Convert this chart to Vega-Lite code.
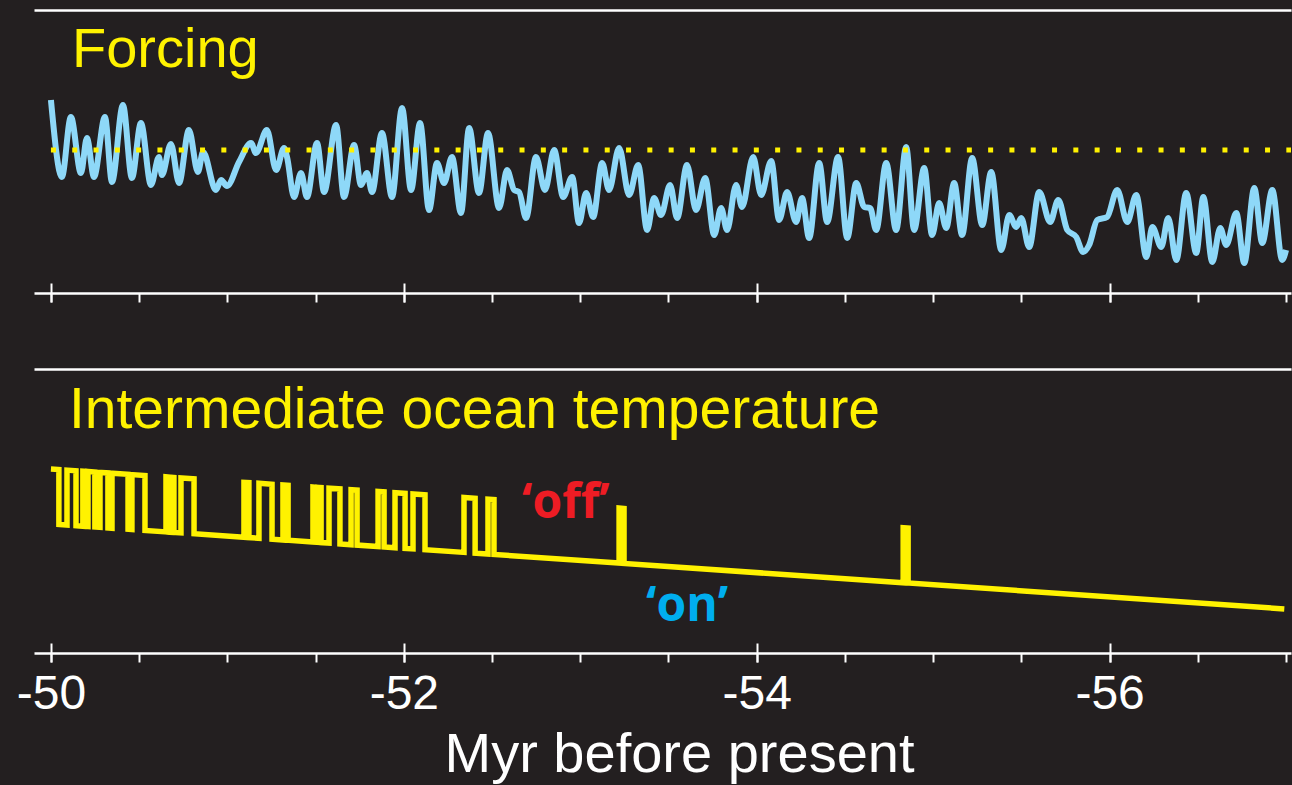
{
  "$schema": "https://vega.github.io/schema/vega-lite/v6.json",
  "background": "#231f20",
  "padding": {"left": 16, "top": 10, "right": 0, "bottom": 5},
  "spacing": 66,
  "config": {
    "view": {"stroke": null},
    "font": "Liberation Sans",
    "axis": {"grid": false, "domainColor": "white", "tickColor": "white", "labelColor": "white", "titleColor": "white", "minExtent": 0, "tickWidth": 2, "domainWidth": 2.5}
  },
  "datasets": {
    "forcing": [
      {"t":-50.000,"f":19.3},{"t":-50.062,"f":11.6},{"t":-50.113,"f":17.6},{"t":-50.170,"f":12.0},{"t":-50.204,"f":15.5},{"t":-50.244,"f":11.6},{"t":-50.306,"f":17.6},{"t":-50.346,"f":11.1},{"t":-50.408,"f":18.8},{"t":-50.459,"f":11.5},{"t":-50.510,"f":17.0},{"t":-50.567,"f":10.8},{"t":-50.612,"f":13.6},{"t":-50.629,"f":11.8},{"t":-50.680,"f":14.9},{"t":-50.726,"f":11.0},{"t":-50.782,"f":16.3},{"t":-50.833,"f":12.1},{"t":-50.862,"f":14.1},{"t":-50.935,"f":10.3},{"t":-50.964,"f":11.3},{"t":-50.998,"f":10.7},{"t":-51.066,"f":13.1},{"t":-51.134,"f":15.0},{"t":-51.162,"f":14.0},{"t":-51.224,"f":16.3},{"t":-51.276,"f":12.3},{"t":-51.321,"f":14.5},{"t":-51.338,"f":13.6},{"t":-51.378,"f":9.6},{"t":-51.417,"f":12.0},{"t":-51.451,"f":9.6},{"t":-51.508,"f":15.0},{"t":-51.548,"f":10.1},{"t":-51.616,"f":16.8},{"t":-51.661,"f":9.6},{"t":-51.718,"f":14.8},{"t":-51.757,"f":10.8},{"t":-51.791,"f":12.0},{"t":-51.820,"f":10.1},{"t":-51.876,"f":16.0},{"t":-51.933,"f":9.6},{"t":-51.990,"f":18.5},{"t":-52.041,"f":10.3},{"t":-52.092,"f":17.0},{"t":-52.143,"f":8.3},{"t":-52.188,"f":13.0},{"t":-52.228,"f":11.0},{"t":-52.273,"f":13.6},{"t":-52.324,"f":8.0},{"t":-52.370,"f":16.5},{"t":-52.426,"f":10.0},{"t":-52.477,"f":16.0},{"t":-52.540,"f":8.5},{"t":-52.585,"f":12.3},{"t":-52.625,"f":10.3},{"t":-52.653,"f":10.1},{"t":-52.693,"f":7.5},{"t":-52.749,"f":13.6},{"t":-52.800,"f":10.3},{"t":-52.852,"f":14.3},{"t":-52.903,"f":9.6},{"t":-52.954,"f":11.6},{"t":-52.993,"f":7.0},{"t":-53.033,"f":10.0},{"t":-53.073,"f":7.6},{"t":-53.124,"f":13.0},{"t":-53.163,"f":10.3},{"t":-53.220,"f":14.5},{"t":-53.277,"f":9.8},{"t":-53.328,"f":12.8},{"t":-53.379,"f":6.3},{"t":-53.418,"f":9.5},{"t":-53.458,"f":7.8},{"t":-53.509,"f":10.8},{"t":-53.549,"f":7.5},{"t":-53.605,"f":12.8},{"t":-53.656,"f":8.3},{"t":-53.708,"f":11.5},{"t":-53.759,"f":5.8},{"t":-53.798,"f":8.5},{"t":-53.832,"f":6.3},{"t":-53.883,"f":10.8},{"t":-53.917,"f":8.6},{"t":-53.980,"f":13.6},{"t":-54.025,"f":9.8},{"t":-54.082,"f":13.2},{"t":-54.127,"f":7.3},{"t":-54.172,"f":10.1},{"t":-54.223,"f":7.1},{"t":-54.257,"f":9.5},{"t":-54.297,"f":5.5},{"t":-54.354,"f":13.0},{"t":-54.399,"f":7.1},{"t":-54.461,"f":13.6},{"t":-54.513,"f":5.5},{"t":-54.564,"f":11.0},{"t":-54.609,"f":8.6},{"t":-54.643,"f":8.5},{"t":-54.677,"f":6.3},{"t":-54.734,"f":13.0},{"t":-54.790,"f":6.3},{"t":-54.847,"f":14.6},{"t":-54.892,"f":6.3},{"t":-54.949,"f":12.5},{"t":-54.994,"f":5.8},{"t":-55.034,"f":9.0},{"t":-55.074,"f":6.5},{"t":-55.119,"f":11.0},{"t":-55.164,"f":5.8},{"t":-55.221,"f":13.5},{"t":-55.278,"f":6.8},{"t":-55.329,"f":12.1},{"t":-55.386,"f":4.3},{"t":-55.431,"f":7.8},{"t":-55.471,"f":6.6},{"t":-55.499,"f":7.5},{"t":-55.544,"f":4.6},{"t":-55.601,"f":10.1},{"t":-55.663,"f":7.1},{"t":-55.709,"f":9.3},{"t":-55.760,"f":6.3},{"t":-55.811,"f":5.6},{"t":-55.850,"f":4.1},{"t":-55.884,"f":4.8},{"t":-55.930,"f":7.3},{"t":-55.986,"f":7.6},{"t":-56.043,"f":10.3},{"t":-56.100,"f":7.1},{"t":-56.151,"f":9.8},{"t":-56.208,"f":3.6},{"t":-56.242,"f":6.6},{"t":-56.293,"f":4.6},{"t":-56.332,"f":7.5},{"t":-56.378,"f":3.3},{"t":-56.434,"f":10.0},{"t":-56.491,"f":4.0},{"t":-56.531,"f":9.6},{"t":-56.582,"f":3.1},{"t":-56.627,"f":6.5},{"t":-56.661,"f":4.8},{"t":-56.718,"f":8.0},{"t":-56.763,"f":3.0},{"t":-56.820,"f":10.5},{"t":-56.865,"f":5.0},{"t":-56.922,"f":10.3},{"t":-56.978,"f":3.3},{"t":-57.000,"f":4.3}
    ],
    "temp": [
      {"i":0,"t":-50.000,"v":18.40},
      {"i":1,"t":-50.045,"v":18.35},{"i":2,"t":-50.045,"v":12.85},
      {"i":3,"t":-50.091,"v":12.79},{"i":4,"t":-50.091,"v":18.29},
      {"i":5,"t":-50.142,"v":18.23},{"i":6,"t":-50.142,"v":12.73},
      {"i":7,"t":-50.181,"v":12.68},{"i":8,"t":-50.181,"v":18.18},
      {"i":9,"t":-50.193,"v":18.17},{"i":10,"t":-50.193,"v":12.67},
      {"i":11,"t":-50.210,"v":12.65},{"i":12,"t":-50.210,"v":18.15},
      {"i":13,"t":-50.249,"v":18.10},{"i":14,"t":-50.249,"v":12.60},
      {"i":15,"t":-50.278,"v":12.56},{"i":16,"t":-50.278,"v":18.06},
      {"i":17,"t":-50.323,"v":18.01},{"i":18,"t":-50.323,"v":12.51},
      {"i":19,"t":-50.346,"v":12.48},{"i":20,"t":-50.346,"v":17.98},
      {"i":21,"t":-50.437,"v":17.87},{"i":22,"t":-50.437,"v":12.37},
      {"i":23,"t":-50.459,"v":12.34},{"i":24,"t":-50.459,"v":17.84},
      {"i":25,"t":-50.533,"v":17.75},{"i":26,"t":-50.533,"v":12.25},
      {"i":27,"t":-50.652,"v":12.11},{"i":28,"t":-50.652,"v":17.61},
      {"i":29,"t":-50.663,"v":17.59},{"i":30,"t":-50.663,"v":12.09},
      {"i":31,"t":-50.680,"v":12.07},{"i":32,"t":-50.680,"v":17.57},
      {"i":33,"t":-50.697,"v":17.55},{"i":34,"t":-50.697,"v":12.05},
      {"i":35,"t":-50.737,"v":12.01},{"i":36,"t":-50.737,"v":17.51},
      {"i":37,"t":-50.811,"v":17.42},{"i":38,"t":-50.811,"v":11.92},
      {"i":39,"t":-51.094,"v":11.57},{"i":40,"t":-51.094,"v":17.07},
      {"i":41,"t":-51.122,"v":17.04},{"i":42,"t":-51.122,"v":11.54},
      {"i":43,"t":-51.179,"v":11.47},{"i":44,"t":-51.179,"v":16.97},
      {"i":45,"t":-51.253,"v":16.88},{"i":46,"t":-51.253,"v":11.38},
      {"i":47,"t":-51.315,"v":11.30},{"i":48,"t":-51.315,"v":16.80},
      {"i":49,"t":-51.344,"v":16.77},{"i":50,"t":-51.344,"v":11.27},
      {"i":51,"t":-51.485,"v":11.10},{"i":52,"t":-51.485,"v":16.60},
      {"i":53,"t":-51.497,"v":16.58},{"i":54,"t":-51.497,"v":11.08},
      {"i":55,"t":-51.514,"v":11.06},{"i":56,"t":-51.514,"v":16.56},
      {"i":57,"t":-51.531,"v":16.54},{"i":58,"t":-51.531,"v":11.04},
      {"i":59,"t":-51.576,"v":10.99},{"i":60,"t":-51.576,"v":16.49},
      {"i":61,"t":-51.638,"v":16.41},{"i":62,"t":-51.638,"v":10.91},
      {"i":63,"t":-51.701,"v":10.83},{"i":64,"t":-51.701,"v":16.33},
      {"i":65,"t":-51.735,"v":16.29},{"i":66,"t":-51.735,"v":10.79},
      {"i":67,"t":-51.854,"v":10.65},{"i":68,"t":-51.854,"v":16.15},
      {"i":69,"t":-51.888,"v":16.11},{"i":70,"t":-51.888,"v":10.61},
      {"i":71,"t":-51.950,"v":10.53},{"i":72,"t":-51.950,"v":16.03},
      {"i":73,"t":-52.007,"v":15.96},{"i":74,"t":-52.007,"v":10.46},
      {"i":75,"t":-52.052,"v":10.41},{"i":76,"t":-52.052,"v":15.91},
      {"i":77,"t":-52.120,"v":15.82},{"i":78,"t":-52.120,"v":10.32},
      {"i":79,"t":-52.341,"v":10.06},{"i":80,"t":-52.341,"v":15.56},
      {"i":81,"t":-52.404,"v":15.48},{"i":82,"t":-52.404,"v":9.98},
      {"i":83,"t":-52.477,"v":9.89},{"i":84,"t":-52.477,"v":15.39},
      {"i":85,"t":-52.511,"v":15.35},{"i":86,"t":-52.511,"v":9.85},
      {"i":87,"t":-53.220,"v":8.99},{"i":88,"t":-53.220,"v":14.49},
      {"i":89,"t":-53.248,"v":14.45},{"i":90,"t":-53.248,"v":8.95},
      {"i":91,"t":-54.830,"v":7.03},{"i":92,"t":-54.830,"v":12.53},
      {"i":93,"t":-54.858,"v":12.50},{"i":94,"t":-54.858,"v":7.00},
      {"i":95,"t":-56.990,"v":4.41}
    ]
  },
  "vconcat": [
    {
      "width": 1257,
      "height": 283,
      "resolve": {"axis": {"x": "independent"}},
      "layer": [
        {
          "data": {"name": "forcing"},
          "mark": {"type": "line", "color": "#8ed8f8", "strokeWidth": 6, "interpolate": "monotone"},
          "encoding": {
            "x": {"field": "t", "type": "quantitative", "scale": {"domain": [-49.904, -57.028], "nice": false, "zero": false},
                  "axis": {"orient": "bottom", "values": [-50,-50.5,-51,-51.5,-52,-52.5,-53,-53.5,-54,-54.5,-55,-55.5,-56,-56.5,-57], "tickSize": 9, "labels": false, "title": null}},
            "y": {"field": "f", "type": "quantitative", "scale": {"domain": [0, 28.3], "nice": false, "zero": false}, "axis": null}
          }
        },
        {
          "data": {"values": [{"a": -50, "b": -57.028, "y": 14.3}]},
          "mark": {"type": "rule", "color": "#fff200", "strokeWidth": 5, "strokeDash": [5, 16.3], "strokeCap": "butt"},
          "encoding": {
            "x": {"field": "a", "type": "quantitative", "scale": {"domain": [-49.904, -57.028], "nice": false, "zero": false},
                  "axis": {"orient": "bottom", "values": [-50,-52,-54,-56], "tickSize": 19, "offset": -10, "domain": false, "labels": false, "title": null}},
            "x2": {"field": "b"},
            "y": {"field": "y", "type": "quantitative", "scale": {"domain": [0, 28.3], "nice": false, "zero": false}, "axis": null}
          }
        },
        {
          "data": {"values": [{"t": -50.119, "v": 22.6, "s": "Forcing"}]},
          "mark": {"type": "text", "align": "left", "baseline": "alphabetic", "font": "Liberation Sans", "fontSize": 56, "color": "#fff200"},
          "encoding": {
            "x": {"field": "t", "type": "quantitative", "scale": {"domain": [-49.904, -57.028], "nice": false, "zero": false},
                  "axis": {"orient": "top", "ticks": false, "labels": false, "title": null}},
            "y": {"field": "v", "type": "quantitative", "scale": {"domain": [0, 28.3], "nice": false, "zero": false}, "axis": null},
            "text": {"field": "s"}
          }
        }
      ]
    },
    {
      "width": 1257,
      "height": 284,
      "resolve": {"axis": {"x": "independent"}},
      "layer": [
        {
          "data": {"name": "temp"},
          "mark": {"type": "line", "color": "#fff200", "strokeWidth": 5.5, "strokeJoin": "miter"},
          "encoding": {
            "x": {"field": "t", "type": "quantitative", "scale": {"domain": [-49.904, -57.028], "nice": false, "zero": false},
                  "axis": {"orient": "bottom", "values": [-50,-50.5,-51,-51.5,-52,-52.5,-53,-53.5,-54,-54.5,-55,-55.5,-56,-56.5,-57], "tickSize": 9,
                           "labelExpr": "datum.value % 2 === 0 ? '-' + abs(datum.value) : ''", "labelFont": "Liberation Sans", "labelFontSize": 48,
                           "labelBaseline": "alphabetic", "labelPadding": 46, "labelDx": -11, "labelFlush": false, "labelOverlap": false,
                           "title": "Myr before present", "titleFont": "Liberation Sans", "titleFontSize": 56, "titleFontWeight": "normal",
                           "titleX": 645, "titleY": 118, "titleBaseline": "alphabetic", "titleAlign": "center", "titleAnchor": "start"}},
            "y": {"field": "v", "type": "quantitative", "scale": {"domain": [0, 28.4], "nice": false, "zero": false}, "axis": null},
            "order": {"field": "i", "type": "quantitative"}
          }
        },
        {
          "data": {"values": [{"t": -50.102, "v": 22.5, "s": "Intermediate ocean temperature"}]},
          "mark": {"type": "text", "align": "left", "baseline": "alphabetic", "font": "Liberation Sans", "fontSize": 57, "color": "#fff200"},
          "encoding": {
            "x": {"field": "t", "type": "quantitative", "scale": {"domain": [-49.904, -57.028], "nice": false, "zero": false},
                  "axis": {"orient": "top", "ticks": false, "labels": false, "title": null}},
            "y": {"field": "v", "type": "quantitative", "scale": {"domain": [0, 28.4], "nice": false, "zero": false}, "axis": null},
            "text": {"field": "s"}
          }
        },
        {
          "data": {"values": [{"t": -52.670, "v": 13.5, "s": "‘off’"}]},
          "mark": {"type": "text", "align": "left", "baseline": "alphabetic", "font": "Open Sans", "fontWeight": "bold", "fontSize": 48, "color": "#ed1c24"},
          "encoding": {
            "x": {"field": "t", "type": "quantitative", "scale": {"domain": [-49.904, -57.028], "nice": false, "zero": false},
                  "axis": {"orient": "bottom", "values": [-50,-52,-54,-56], "tickSize": 19, "offset": -10, "domain": false, "labels": false, "title": null}},
            "y": {"field": "v", "type": "quantitative", "scale": {"domain": [0, 28.4], "nice": false, "zero": false}, "axis": null},
            "text": {"field": "s"}
          }
        },
        {
          "data": {"values": [{"t": -53.373, "v": 3.2, "s": "‘on’"}]},
          "mark": {"type": "text", "align": "left", "baseline": "alphabetic", "font": "Open Sans", "fontWeight": "bold", "fontSize": 48, "color": "#00aeef"},
          "encoding": {
            "x": {"field": "t", "type": "quantitative", "scale": {"domain": [-49.904, -57.028], "nice": false, "zero": false}, "axis": null},
            "y": {"field": "v", "type": "quantitative", "scale": {"domain": [0, 28.4], "nice": false, "zero": false}, "axis": null},
            "text": {"field": "s"}
          }
        }
      ]
    }
  ]
}
